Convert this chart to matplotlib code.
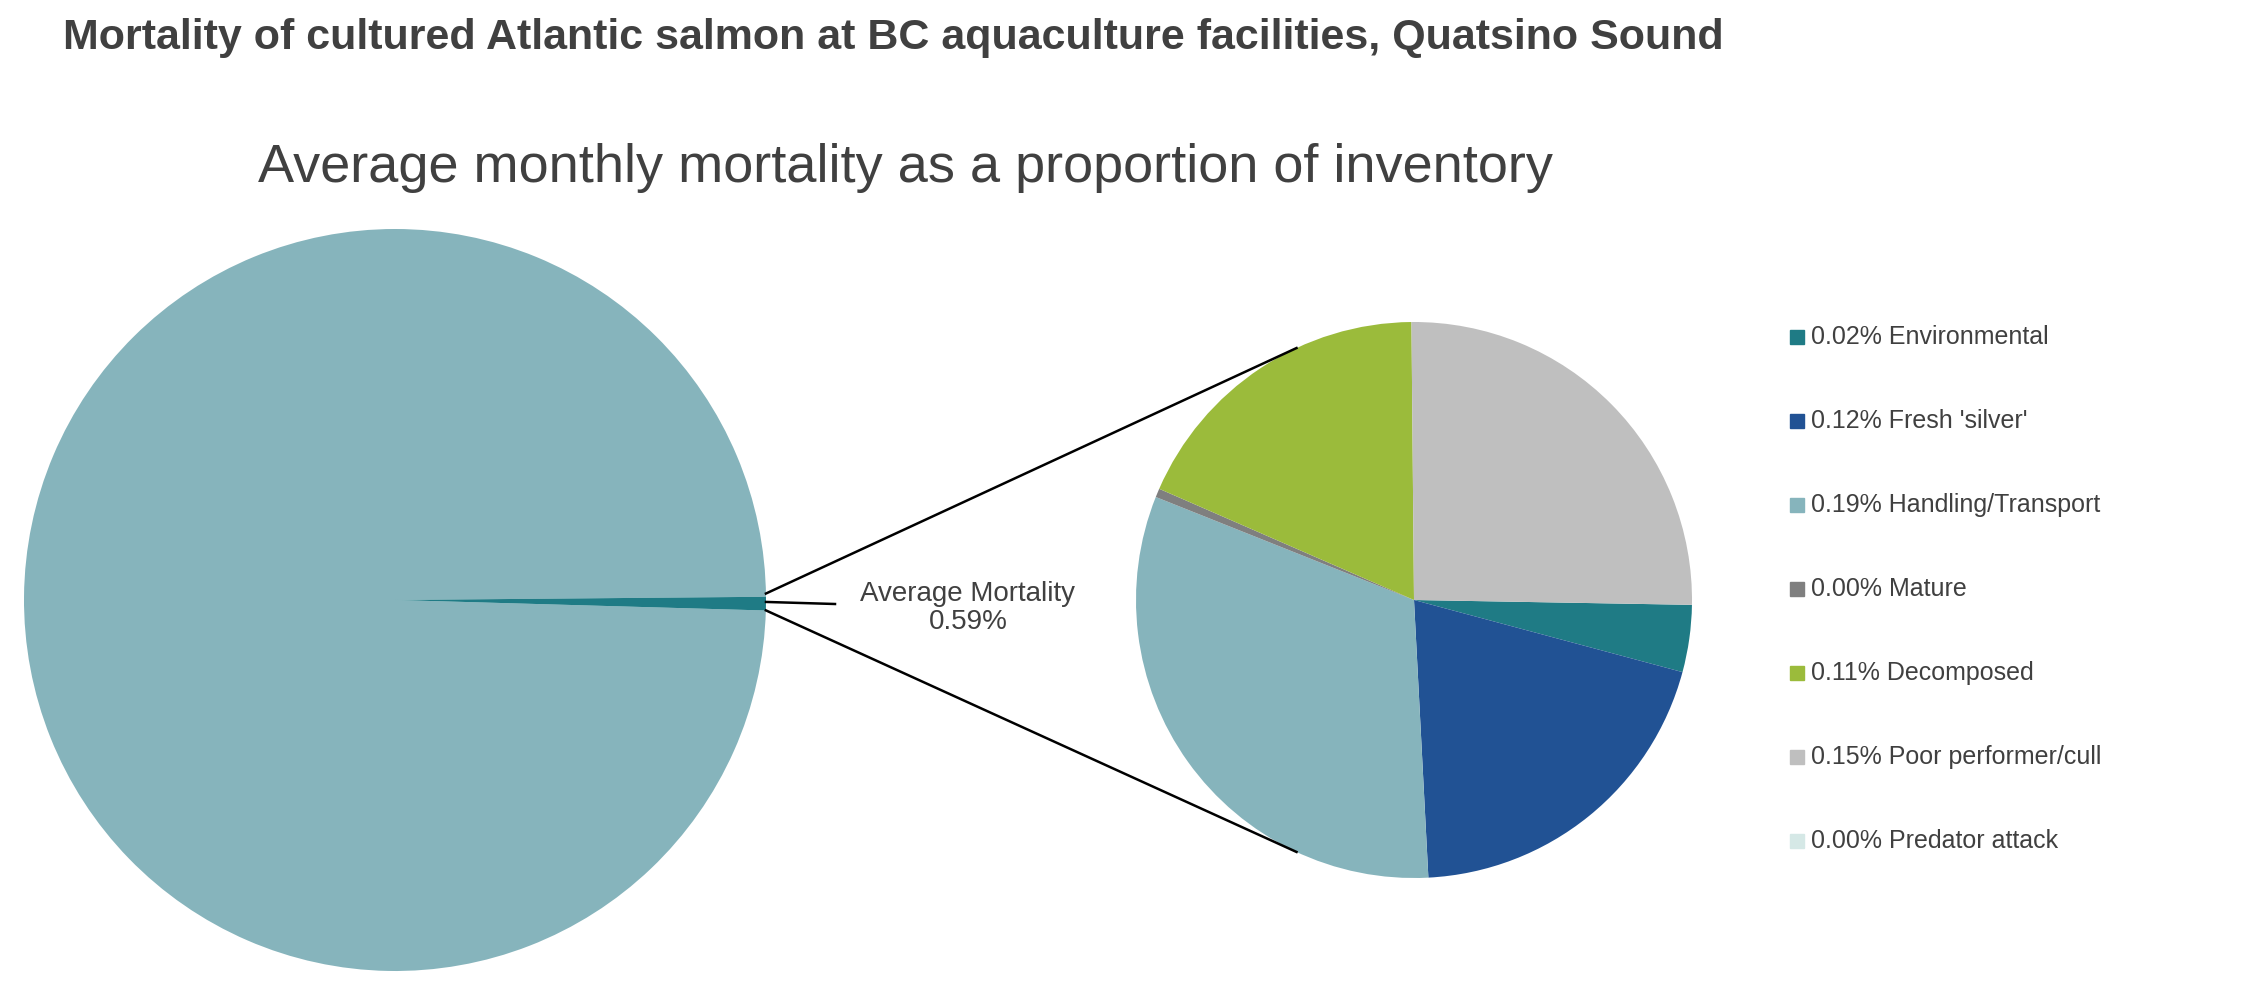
import numpy as np
import matplotlib.pyplot as plt

plt.rcParams['font.family'] = ['Liberation Sans', 'DejaVu Sans']

# --- data -------------------------------------------------------------------
categories = ["Environmental", "Fresh 'silver'", "Handling/Transport", "Mature",
              "Decomposed", "Poor performer/cull", "Predator attack"]
values = [0.023, 0.118, 0.188, 0.003, 0.108, 0.150, 0.0]
labels = ["0.02%", "0.12%", "0.19%", "0.00%", "0.11%", "0.15%", "0.00%"]
colors = ["#1F7B85", "#215294", "#86B4BC", "#7F7F7F", "#9BBB3B", "#BFBFBF", "#D5E8E6"]
total = 0.59

W, H = 2245, 985
fig = plt.figure(figsize=(W / 100, H / 100), dpi=100)

def px_axes(cx, cy, r):
    # cx, cy from top-left in pixels
    return fig.add_axes([(cx - r) / W, 1 - (cy + r) / H, 2 * r / W, 2 * r / H])

big = px_axes(395, 600, 371)
big.pie([100 - total, total], colors=["#86B4BC", "#1F7B85"], startangle=0.5,
        radius=1, wedgeprops=dict(linewidth=0))
big.set_xlim(-1, 1); big.set_ylim(-1, 1); big.set_aspect('equal'); big.axis('off')

small = px_axes(1414, 600, 278)
small.pie(values, colors=colors, startangle=-1, counterclock=False, radius=1,
          wedgeprops=dict(linewidth=0))
small.set_xlim(-1, 1); small.set_ylim(-1, 1); small.set_aspect('equal'); small.axis('off')

def fig_pt(ax, ang, r=1.0):
    a = np.deg2rad(ang)
    p = ax.transData.transform((r * np.cos(a), r * np.sin(a)))
    return fig.transFigure.inverted().transform(p)

for a_big, a_small in [(1.0, 115), (-1.6, -115)]:
    p1 = fig_pt(big, a_big)
    p2 = fig_pt(small, a_small)
    fig.add_artist(plt.Line2D([p1[0], p2[0]], [p1[1], p2[1]], color='black', lw=1.8,
                              transform=fig.transFigure))

p0 = fig_pt(big, -0.3)
fig.add_artist(plt.Line2D([p0[0], 835 / W], [p0[1], 1 - 604 / H], color='black', lw=1.8,
                          transform=fig.transFigure))
fig.text(968 / W, 1 - 608 / H, "Average Mortality\n0.59%", ha='center', va='center',
         fontsize=20, color='#404040', linespacing=1.1)

fig.text(63 / W, 1 - 38 / H,
         "Mortality of cultured Atlantic salmon at BC aquaculture facilities, Quatsino Sound",
         fontsize=31, fontweight='bold', color='#404040', va='center')
fig.text(905 / W, 1 - 168 / H, "Average monthly mortality as a proportion of inventory",
         fontsize=39, color='#404040', va='center', ha='center')

# legend
for i, (lab, cat, col) in enumerate(zip(labels, categories, colors)):
    y = 1 - (337 + i * 84) / H
    fig.patches.append(plt.Rectangle((1790 / W, y - 7 / H), 14 / W, 14 / H, color=col,
                                     transform=fig.transFigure))
    fig.text(1811 / W, y, f"{lab} {cat}", fontsize=18, color='#404040', va='center')

fig.savefig("out.png", dpi=100, facecolor='white')
